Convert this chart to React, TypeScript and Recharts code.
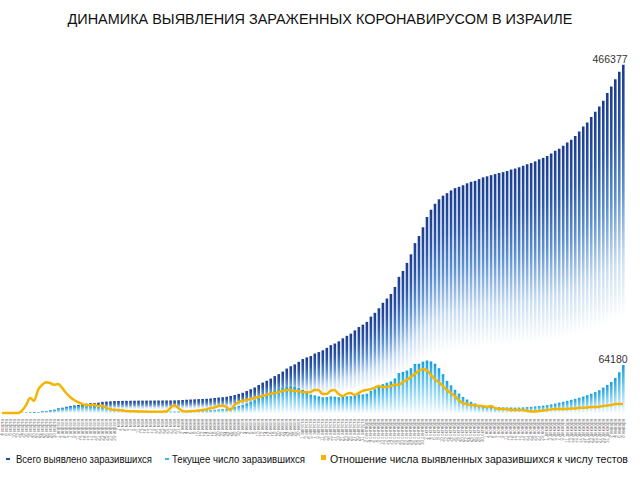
import { ComposedChart, Bar, Line, XAxis, YAxis, LabelList } from 'recharts';

// every second day, 4 March 2020 .. 8 January 2021
const months: [string, number, number][] = [
  ['марта', 4, 30], ['апреля', 1, 29], ['мая', 1, 31], ['июня', 2, 30], ['июля', 2, 30],
  ['августа', 1, 31], ['сентября', 2, 30], ['октября', 2, 30], ['ноября', 1, 29],
  ['декабря', 1, 31], ['января', 2, 8],
];
const dates: string[] = months.flatMap(([m, from, to]) => {
  const out: string[] = [];
  for (let d = from; d <= to; d += 2) out.push(`${d} ${m}`);
  return out;
});

const totalCases = [
  15, 21, 39, 75, 109, 193, 298, 433, 883, 1238,
  1930, 2693, 3460, 4347, 6092, 7030, 8430, 9248, 10095, 10743,
  11586, 12501, 13107, 13491, 13883, 14882, 15298, 15589, 15946, 16101,
  16208, 16268, 16381, 16454, 16506, 16548, 16588, 16617, 16659, 16690,
  16717, 16757, 16793, 16872, 17071, 17377, 17752, 18032, 18268, 18569,
  18795, 19055, 19495, 20081, 20633, 21082, 21793, 22800, 23989, 25547,
  27047, 29366, 31763, 34055, 37464, 40632, 43127, 46059, 49365, 52003,
  55419, 59475, 62562, 65089, 68510, 72218, 74430, 76198, 79559, 81533,
  83942, 87213, 90845, 93006, 95975, 99958, 103322, 106260, 110611, 115077,
  118277, 122007, 129076, 134108, 140204, 147570, 153217, 159292, 168725, 182319,
  190138, 200993, 212463, 227434, 236926, 248668, 262405, 272109, 280102, 286148,
  290980, 294321, 297963, 301096, 302844, 304916, 307523, 309568, 310800, 313139,
  315465, 316870, 318476, 319885, 321337, 322483, 324019, 325880, 327268, 328941,
  330993, 333087, 334631, 336877, 339617, 341558, 344186, 347591, 351000, 353950,
  357900, 362100, 365700, 370800, 376900, 383600, 389000, 396400, 403300, 410300,
  418100, 428400, 437000, 446800, 456900, 466377,
];

const activeCases = [
  14, 20, 37, 70, 100, 180, 280, 410, 850, 1180,
  1850, 2600, 3300, 4150, 5800, 6600, 7800, 8500, 9100, 9400,
  9600, 9500, 9100, 8600, 7900, 7600, 7000, 6300, 5600, 5000,
  4400, 3900, 3400, 3000, 2800, 2500, 2300, 2100, 2000, 1950,
  1900, 1900, 1880, 1900, 2050, 2300, 2600, 2800, 3000, 3200,
  3400, 3500, 3850, 4300, 4800, 5200, 5900, 6800, 7900, 9300,
  10600, 12700, 14900, 17000, 20200, 23000, 25000, 27400, 30100, 31700,
  33300, 35000, 35700, 34900, 33300, 30800, 27600, 24600, 23500, 22300,
  21100, 21300, 22200, 21800, 21200, 21400, 22300, 22500, 22900, 24800,
  24900, 25800, 29700, 31700, 34800, 38600, 40500, 42300, 46300, 53400,
  55000, 56900, 60000, 65800, 66000, 68800, 70300, 69000, 66000, 60000,
  52000, 43000, 37000, 31000, 26000, 21500, 18000, 15000, 12800, 11000,
  9800, 9000, 8400, 8000, 7700, 7500, 7300, 7200, 7200, 7300,
  7500, 7900, 8300, 8800, 9300, 9900, 10600, 11500, 12600, 13800,
  15000, 16300, 17600, 19000, 20500, 22000, 23800, 25800, 28000, 30500,
  34000, 37500, 41500, 47000, 54500, 64180,
];

// share of positive tests, %
const positiveRate = [
  0, 0, 0, 0, 0, 0.8, 2.6, 5.0, 4.0, 7.6,
  9.3, 10.2, 9.9, 9.3, 9.6, 8.3, 6.6, 5.3, 4.3, 3.6,
  3.0, 2.6, 2.6, 2.7, 2.3, 2.4, 1.7, 1.3, 1.0, 1.0,
  0.8, 0.7, 0.6, 0.6, 0.5, 0.5, 0.5, 0.4, 0.4, 0.4,
  0.45, 0.5, 1.6, 2.6, 1.6, 0.7, 0.5, 0.6, 0.7, 0.8,
  1.0, 1.2, 1.6, 1.8, 2.3, 2.4, 2.0, 1.0, 2.6, 3.6,
  4.0, 4.3, 4.6, 5.0, 5.3, 5.6, 6.0, 6.3, 6.6, 6.9,
  7.3, 7.6, 7.6, 7.3, 7.3, 6.9, 6.9, 6.9, 7.6, 7.6,
  6.3, 6.3, 7.3, 7.6, 6.3, 5.6, 6.3, 6.6, 6.0, 6.6,
  7.3, 7.6, 7.9, 8.3, 8.9, 8.6, 8.6, 8.9, 9.3, 9.3,
  10.2, 10.9, 11.9, 12.9, 13.9, 14.5, 14.2, 12.6, 11.2, 10.2,
  8.9, 7.6, 6.6, 5.6, 4.3, 3.3, 3.0, 2.6, 2.6, 2.3,
  2.3, 2.0, 2.3, 1.7, 1.3, 1.3, 1.3, 1.0, 1.0, 1.0,
  1.0, 0.7, 0.5, 0.5, 0.7, 0.8, 1.0, 1.2, 1.3, 1.3,
  1.3, 1.3, 1.5, 1.5, 1.7, 1.7, 1.8, 2.0, 2.0, 2.1,
  2.3, 2.5, 2.6, 3.0, 3.0, 3.0,
];

const data = dates.map((date, i) => ({
  date,
  total: totalCases[i],
  active: activeCases[i],
  rate: positiveRate[i],
}));

const lastTotal = totalCases[totalCases.length - 1];
const lastActive = activeCases[activeCases.length - 1];

// tiny vertical date labels; scaled down so the browser's minimum font size doesn't kick in
function DateTick({ x, y, payload }: any) {
  return (
    <g transform={`translate(${x},${y - 2})`}>
      <text transform="rotate(-90) scale(0.66)" textAnchor="end" dy={2.4} fontSize={7} fill="#808080">
        {payload.value}
      </text>
    </g>
  );
}

function makeEndLabel(target: number) {
  return (props: any) => {
    if (props.value !== target) return null;
    const vb = props.viewBox || props;
    const x = vb.x ?? props.x;
    const y = vb.y ?? props.y;
    const w = vb.width ?? props.width ?? 0;
    return (
      <text x={x + w + 3} y={y - 2} textAnchor="end" fontSize={10.5} fill="#333">
        {target}
      </text>
    );
  };
}

const legendItems = [
  { label: 'Всего выявлено заразившихся', color: '#1d4a9c', mx: 6, tx: 16, len: 136, square: false },
  { label: 'Текущее число заразившихся', color: '#3fb2ea', mx: 165, tx: 172, len: 133, square: false },
  { label: 'Отношение числа выявленных заразившихся к числу тестов', color: '#f5b400', mx: 321, tx: 330, len: 298, square: true },
];

export default function App() {
  return (
    <div
      style={{
        position: 'absolute',
        left: 0,
        top: 0,
        width: 640,
        height: 480,
        background: '#fff',
        fontFamily: "'Liberation Sans', Arial, sans-serif",
      }}
    >
      <svg width={640} height={40} style={{ position: 'absolute', left: 0, top: 0 }}>
        <text
          x={320}
          y={24}
          textAnchor="middle"
          fontSize={15.5}
          fill="#111"
          textLength={505}
          lengthAdjust="spacingAndGlyphs"
        >
          ДИНАМИКА ВЫЯВЛЕНИЯ ЗАРАЖЕННЫХ КОРОНАВИРУСОМ В ИЗРАИЛЕ
        </text>
      </svg>

      <div style={{ position: 'absolute', left: 0, top: 0 }}>
        <ComposedChart
          width={640}
          height={448}
          data={data}
          margin={{ top: 50, right: 15, left: 0, bottom: 0 }}
        >
          <defs>
            <linearGradient id="gTotal" x1="0" y1="0" x2="0" y2="1">
              <stop offset="0%" stopColor="#1a3c8e" />
              <stop offset="18%" stopColor="#2c58aa" />
              <stop offset="36%" stopColor="#5e92d2" />
              <stop offset="55%" stopColor="#c9ddf2" />
              <stop offset="72%" stopColor="#ffffff" />
            </linearGradient>
            <linearGradient id="gActive" x1="0" y1="0" x2="0" y2="1">
              <stop offset="0%" stopColor="#14a0de" />
              <stop offset="50%" stopColor="#86d1f3" />
              <stop offset="100%" stopColor="#f6fcff" />
            </linearGradient>
          </defs>
          <XAxis
            xAxisId="a"
            dataKey="date"
            interval={0}
            height={35}
            tickLine={false}
            axisLine={false}
            tick={<DateTick />}
          />
          <XAxis xAxisId="b" dataKey="date" hide />
          <YAxis yAxisId="l" hide domain={[0, 486000]} />
          <YAxis yAxisId="r" hide orientation="right" domain={[0, 120]} />
          <Bar xAxisId="a" yAxisId="l" dataKey="total" fill="url(#gTotal)" barSize={2.6} isAnimationActive={false}>
            <LabelList dataKey="total" content={makeEndLabel(lastTotal)} />
          </Bar>
          <Bar xAxisId="b" yAxisId="l" dataKey="active" fill="url(#gActive)" barSize={2.6} isAnimationActive={false}>
            <LabelList dataKey="active" content={makeEndLabel(lastActive)} />
          </Bar>
          <Line
            xAxisId="a"
            yAxisId="r"
            dataKey="rate"
            type="monotone"
            stroke="#f5b400"
            strokeWidth={2.5}
            dot={false}
            isAnimationActive={false}
          />
        </ComposedChart>
      </div>

      <svg width={640} height={20} style={{ position: 'absolute', left: 0, top: 450 }}>
        {legendItems.map((it) => (
          <g key={it.label}>
            {it.square ? (
              <rect x={it.mx} y={5} width={5} height={5} fill={it.color} />
            ) : (
              <rect x={it.mx} y={8} width={4} height={2} fill={it.color} />
            )}
            <text
              x={it.tx}
              y={12.5}
              fontSize={10.5}
              fill="#111"
              textLength={it.len}
              lengthAdjust="spacingAndGlyphs"
            >
              {it.label}
            </text>
          </g>
        ))}
      </svg>
    </div>
  );
}
